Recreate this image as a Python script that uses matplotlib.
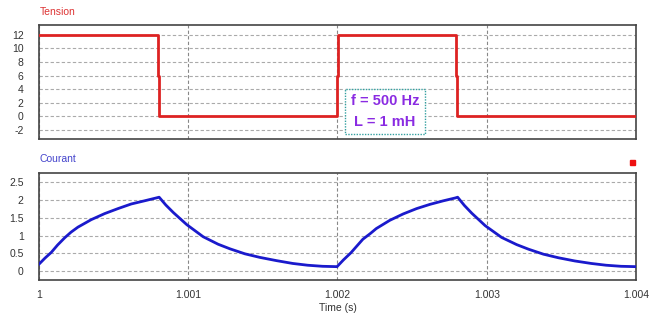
import matplotlib
matplotlib.use("Agg")
import matplotlib.pyplot as plt
from matplotlib.patches import Rectangle

# --- data ---
tension_t = [1.0, 1.000797, 1.000797, 1.000803, 1.000803, 1.001997, 1.001997,
             1.002003, 1.002003, 1.002797, 1.002797, 1.002803, 1.002803, 1.004]
tension_v = [12, 12, 6, 6, 0, 0, 6, 6, 12, 12, 6, 6, 0, 0]

courant_t = [1.0, 1.00004, 1.000082, 1.000125, 1.000172, 1.000215, 1.000261, 1.00035,
             1.00044, 1.000529, 1.000618, 1.000708, 1.000786, 1.000805,
             1.00085, 1.0009, 1.00099, 1.0011, 1.0012, 1.00128, 1.00138, 1.00148, 1.00159,
             1.0017, 1.0018, 1.0019, 1.001997,
             1.00204, 1.00209, 1.00213, 1.00217, 1.00222, 1.00226, 1.00235, 1.00244,
             1.00253, 1.00262, 1.00271, 1.00279, 1.002805,
             1.00285, 1.0029, 1.00299, 1.0031, 1.0032, 1.00328, 1.00338, 1.00348, 1.00359,
             1.0037, 1.0038, 1.0039, 1.004]
courant_i = [0.20, 0.37, 0.53, 0.74, 0.94, 1.10, 1.24, 1.45,
             1.62, 1.76, 1.89, 1.98, 2.06, 2.08,
             1.86, 1.65, 1.31, 0.97, 0.76, 0.63, 0.49, 0.39, 0.30,
             0.22, 0.17, 0.14, 0.13,
             0.32, 0.52, 0.71, 0.90, 1.06, 1.20, 1.43, 1.61,
             1.76, 1.88, 1.98, 2.06, 2.08,
             1.85, 1.63, 1.28, 0.95, 0.75, 0.62, 0.48, 0.38, 0.29,
             0.22, 0.17, 0.14, 0.13]

tension_yticks = [-2, 0, 2, 4, 6, 8, 10, 12]
courant_yticks = [0, 0.5, 1, 1.5, 2, 2.5]
courant_yticklabels = ["0", "0.5", "1", "1.5", "2", "2.5"]
xticks = [1.0, 1.001, 1.002, 1.003, 1.004]
xticklabels = ["1", "1.001", "1.002", "1.003", "1.004"]

plt.rcParams['font.family'] = ['Liberation Sans', 'DejaVu Sans']

fig = plt.figure(figsize=(6.6, 3.23), dpi=100)
fig.patch.set_facecolor('white')

ax1 = fig.add_axes([0.0591, 0.5697, 0.9045, 0.3529])
ax2 = fig.add_axes([0.0591, 0.1331, 0.9045, 0.3313])

hgrid_kw = dict(color='#aaaaaa', linestyle=(0, (3, 2)), linewidth=0.8)
vgrid_kw = dict(color='#888888', linestyle=(0, (3, 2)), linewidth=0.8)
tick_color = '#333333'

for ax in (ax1, ax2):
    ax.set_xlim(1.0, 1.004)
    for s in ax.spines.values():
        s.set_color('#444444')
        s.set_linewidth(1.2)
    ax.tick_params(axis='y', length=0, labelsize=7.5, colors=tick_color, pad=11)
    ax.tick_params(axis='x', length=0, labelsize=7.5, colors=tick_color, pad=7)

# Top: Tension
ax1.plot(tension_t, tension_v, color='#dd2222', linewidth=2, zorder=3)
ax1.set_ylim(-3.3, 13.4)
ax1.set_yticks(tension_yticks)
ax1.set_yticklabels([str(v) for v in tension_yticks])
ax1.set_xticks(xticks)
ax1.set_xticklabels([])
ax1.grid(True, axis='y', **hgrid_kw)
ax1.grid(True, axis='x', **vgrid_kw)
ax1.set_axisbelow(True)
fig.text(0.0606, 1 - 12 / 323, "Tension", color='#dd3333', fontsize=7.5, va='center', ha='left')

# Bottom: Courant
ax2.plot(courant_t, courant_i, color='#1a1acc', linewidth=2, zorder=3)
ax2.set_ylim(-0.245, 2.76)
ax2.set_yticks(courant_yticks)
ax2.set_yticklabels(courant_yticklabels)
ax2.set_xticks(xticks)
ax2.set_xticklabels(xticklabels)
ax2.grid(True, axis='y', **hgrid_kw)
ax2.grid(True, axis='x', **vgrid_kw)
ax2.set_axisbelow(True)
ax2.set_xlabel("Time (s)", fontsize=7.5, color=tick_color, labelpad=2)
fig.text(0.0606, 1 - 159 / 323, "Courant", color='#4444cc', fontsize=7.5, va='center', ha='left')

# Red marker square
fig.add_artist(Rectangle((630 / 660, 1 - 165 / 323), 5 / 660, 5 / 323,
                         transform=fig.transFigure, color='#ee1111'))

# Annotation box
bx0, bx1 = 345 / 660, 425 / 660
by0, by1 = 1 - 134 / 323, 1 - 89 / 323
fig.add_artist(Rectangle((bx0, by0), bx1 - bx0, by1 - by0, transform=fig.transFigure,
                         facecolor='white', edgecolor='#33a0a0', linewidth=1,
                         linestyle=(0, (1, 1)), zorder=5))
cx = (bx0 + bx1) / 2
fig.text(cx, 1 - 101 / 323, "f = 500 Hz", color='#8a2be2', fontsize=10.5,
         fontweight='bold', ha='center', va='center', zorder=6)
fig.text(cx, 1 - 122 / 323, "L = 1 mH", color='#8a2be2', fontsize=10.5,
         fontweight='bold', ha='center', va='center', zorder=6)

fig.savefig("out.png", dpi=100)
